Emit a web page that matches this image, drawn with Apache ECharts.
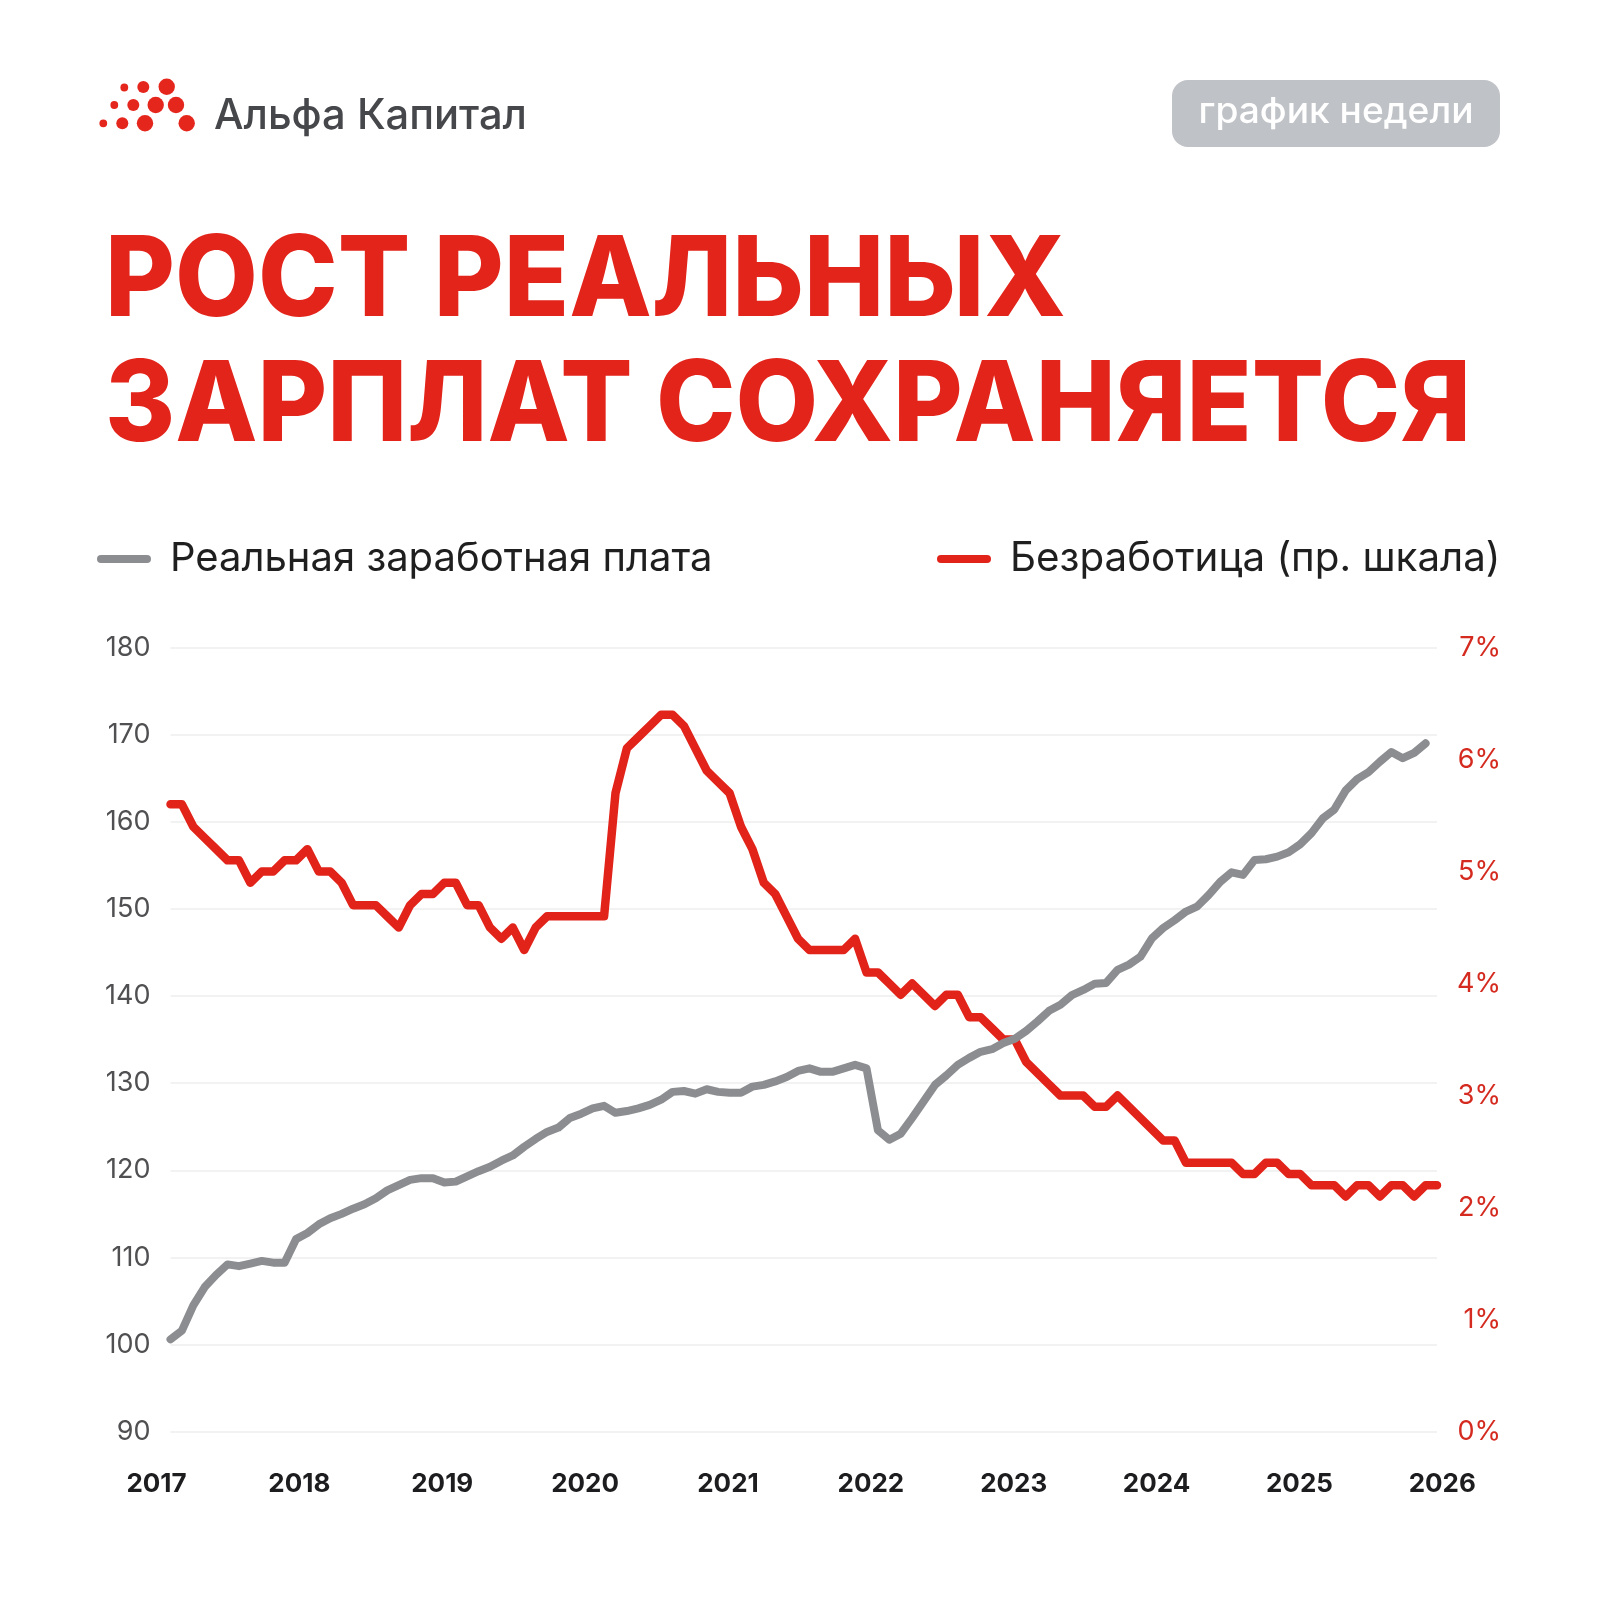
<!DOCTYPE html>
<html><head><meta charset="utf-8">
<script src="https://cdn.jsdelivr.net/npm/echarts@6/dist/echarts.min.js"></script>
<style>html,body{margin:0;padding:0;background:#fff}#c{width:1600px;height:1600px}</style>
</head><body><div id="c"></div>
<script>
// ---- DATA ----
const years = [2017, 2018, 2019, 2020, 2021, 2022, 2023, 2024, 2025, 2026];
const monthsPerYear = ['01','02','03','04','05','06','07','08','09','10','11','12'];
const months = [];
years.forEach(y => monthsPerYear.forEach(m => months.push(y + '-' + m)));
months.length = 112; // Jan 2017 .. Apr 2026

const realWage = [
  100.6, 101.6, 104.5, 106.6, 108.0, 109.2, 109.0, 109.3, 109.6, 109.4, 109.4, 112.1,
  112.8, 113.8, 114.5, 115.0, 115.6, 116.1, 116.8, 117.7, 118.3, 118.9, 119.1, 119.1,
  118.6, 118.7, 119.3, 119.9, 120.4, 121.1, 121.7, 122.7, 123.6, 124.4, 124.9, 126.0,
  126.5, 127.1, 127.4, 126.6, 126.8, 127.1, 127.5, 128.1, 129.0, 129.1, 128.8, 129.3,
  129.0, 128.9, 128.9, 129.6, 129.8, 130.2, 130.7, 131.4, 131.7, 131.3, 131.3, 131.7,
  132.1, 131.7, 124.6, 123.5, 124.2, 126.0, 127.9, 129.8, 130.9, 132.1, 132.9, 133.6,
  133.9, 134.6, 135.1, 136.0, 137.1, 138.3, 139.0, 140.1, 140.7, 141.4, 141.5, 143.0,
  143.6, 144.5, 146.6, 147.8, 148.7, 149.7, 150.3, 151.6, 153.1, 154.2, 153.9, 155.6,
  155.7, 156.0, 156.5, 157.4, 158.7, 160.4, 161.4, 163.6, 164.9, 165.7, 166.9, 168.0,
  167.3, 167.9, 169.0
];
const unemployment = [
  5.6, 5.6, 5.4, 5.3, 5.2, 5.1, 5.1, 4.9, 5.0, 5.0, 5.1, 5.1,
  5.2, 5.0, 5.0, 4.9, 4.7, 4.7, 4.7, 4.6, 4.5, 4.7, 4.8, 4.8,
  4.9, 4.9, 4.7, 4.7, 4.5, 4.4, 4.5, 4.3, 4.5, 4.6, 4.6, 4.6,
  4.6, 4.6, 4.6, 5.7, 6.1, 6.2, 6.3, 6.4, 6.4, 6.3, 6.1, 5.9,
  5.8, 5.7, 5.4, 5.2, 4.9, 4.8, 4.6, 4.4, 4.3, 4.3, 4.3, 4.3,
  4.4, 4.1, 4.1, 4.0, 3.9, 4.0, 3.9, 3.8, 3.9, 3.9, 3.7, 3.7,
  3.6, 3.5, 3.5, 3.3, 3.2, 3.1, 3.0, 3.0, 3.0, 2.9, 2.9, 3.0,
  2.9, 2.8, 2.7, 2.6, 2.6, 2.4, 2.4, 2.4, 2.4, 2.4, 2.3, 2.3,
  2.4, 2.4, 2.3, 2.3, 2.2, 2.2, 2.2, 2.1, 2.2, 2.2, 2.1, 2.2,
  2.2, 2.1, 2.2, 2.2
];
const seriesNames = ['Реальная заработная плата', 'Безработица (пр. шкала)'];
const leftAxis = { min: 90, max: 180, step: 10 };
const rightAxis = { min: 0, max: 7, step: 1 };
const titleLines = ['РОСТ РЕАЛЬНЫХ', 'ЗАРПЛАТ СОХРАНЯЕТСЯ'];
const brandName = 'Альфа Капитал';
const badgeText = 'график недели';

// ---- STYLE ----
const RED = '#e2231a';
const GRAY = '#8b8d90';
const FONT = 'Inter, "Noto Sans", sans-serif';

const mctx = document.createElement('canvas').getContext('2d');
function fit(text, font, width) { mctx.font = font; return width / mctx.measureText(text).width; }

const titleFont = '800 112px Inter';
const brandFont = '500 42px Inter';
const badgeFont = '500 36px Inter';

const dots = [
  [124.3, 87.5, 3.9], [143.3, 87, 6.0], [166.7, 86.7, 8.2],
  [114.3, 105, 3.9], [133.3, 105, 6.0], [155.7, 105, 8.2], [176, 105, 8.2],
  [103.3, 123.3, 3.9], [122.3, 123.3, 6.0], [145, 123.3, 8.2], [186.7, 123.3, 8.2]
];

const graphics = dots.map(d => ({ type: 'circle', shape: { cx: d[0], cy: d[1], r: d[2] }, style: { fill: '#e5261d' } }));
graphics.push({ type: 'text', x: 214, y: 116, scaleX: fit(brandName, brandFont, 313), originX: 0,
  style: { text: brandName, font: brandFont, fill: '#46474b', textVerticalAlign: 'middle' } });
graphics.push({ type: 'rect', shape: { x: 1172, y: 80, width: 328, height: 67, r: 16 }, style: { fill: '#bfc2c6' } });
graphics.push({ type: 'text', x: 1336, y: 112, scaleX: fit(badgeText, badgeFont, 275), originX: 0,
  style: { text: badgeText, font: badgeFont, fill: '#ffffff', textAlign: 'center', textVerticalAlign: 'middle' } });
graphics.push({ type: 'text', x: 105, y: 282, scaleX: fit(titleLines[0], titleFont, 961), originX: 0,
  style: { text: titleLines[0], font: titleFont, fill: '#e3241b', textVerticalAlign: 'middle' } });
graphics.push({ type: 'text', x: 105, y: 407, scaleX: fit(titleLines[1], titleFont, 1366), originX: 0,
  style: { text: titleLines[1], font: titleFont, fill: '#e3241b', textVerticalAlign: 'middle' } });

const capsule = 'path://M4,0 L50,0 A4,4 0 0 1 50,8 L4,8 A4,4 0 0 1 4,0 Z';
const legendText = { fontSize: 40, fontFamily: FONT, color: '#1f1f1f', padding: [0, 0, 0, 14], lineHeight: 48 };

const chart = echarts.init(document.getElementById('c'), null, { renderer: 'canvas' });
chart.setOption({
  backgroundColor: '#ffffff',
  animation: false,
  graphic: graphics,
  legend: [
    { left: 97, top: 535, padding: 0, data: [seriesNames[0]], icon: capsule, itemWidth: 54, itemHeight: 8, textStyle: legendText, selectedMode: false },
    { left: 937, top: 535, padding: 0, data: [seriesNames[1]], icon: capsule, itemWidth: 54, itemHeight: 8,
      textStyle: Object.assign({}, legendText, { fontSize: 40.3 }), selectedMode: false }
  ],
  grid: [
    { left: 170.5, right: 163, top: 647.5, bottom: 168.3 },
    { left: 156.5, right: 157.7, top: 647.5, bottom: 168.3 }
  ],
  xAxis: [
    { gridIndex: 0, type: 'category', data: months, boundaryGap: false,
      axisLine: { show: false }, axisTick: { show: false }, axisLabel: { show: false }, splitLine: { show: false } },
    { gridIndex: 1, type: 'value', min: years[0], max: years[years.length - 1], interval: 1,
      axisLine: { show: false }, axisTick: { show: false }, splitLine: { show: false },
      axisLabel: { margin: 39, fontSize: 26, fontWeight: 'bold', fontFamily: FONT, color: '#1d1d1f', formatter: v => String(v) } }
  ],
  yAxis: [
    { gridIndex: 0, type: 'value', min: leftAxis.min, max: leftAxis.max, interval: leftAxis.step,
      axisLine: { show: false }, axisTick: { show: false },
      splitLine: { lineStyle: { color: '#eeeeee', width: 1.5 } },
      axisLabel: { margin: 20, fontSize: 27, fontFamily: FONT, color: '#505052' } },
    { gridIndex: 0, type: 'value', position: 'right', min: rightAxis.min, max: rightAxis.max, interval: rightAxis.step,
      axisLine: { show: false }, axisTick: { show: false }, splitLine: { show: false },
      axisLabel: { margin: 64, align: 'right', fontSize: 27, fontFamily: FONT, color: '#d42a1f', formatter: '{value}%' } },
    { gridIndex: 1, type: 'value', min: 0, max: 1, show: false }
  ],
  series: [
    { name: seriesNames[0], type: 'line', xAxisIndex: 0, yAxisIndex: 0, data: realWage, symbol: 'none', z: 3,
      itemStyle: { color: GRAY }, lineStyle: { color: GRAY, width: 8, cap: 'round', join: 'round' } },
    { name: seriesNames[1], type: 'line', xAxisIndex: 0, yAxisIndex: 1, data: unemployment, symbol: 'none', z: 2,
      itemStyle: { color: RED }, lineStyle: { color: RED, width: 8.5, cap: 'round', join: 'round' } }
  ]
});
</script>
</body></html>
